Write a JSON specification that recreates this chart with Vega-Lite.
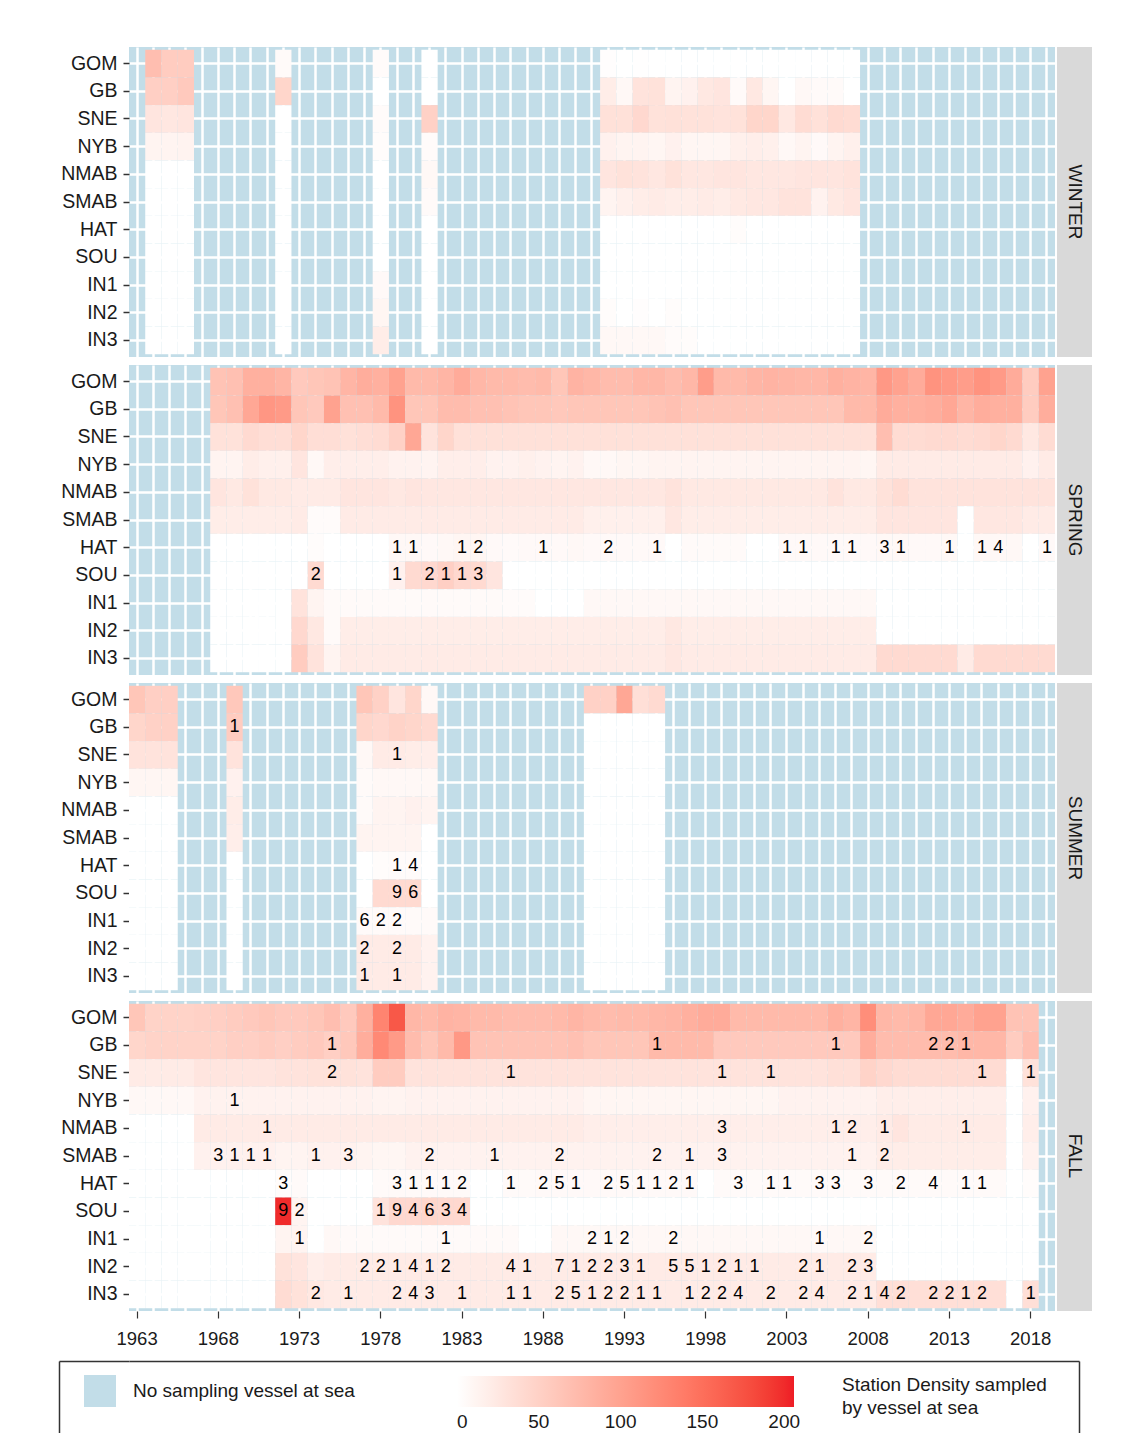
{
"$schema": "https://vega.github.io/schema/vega-lite/v6.json",
"padding": {"left": 58, "top": 47, "right": 0, "bottom": 0},
"background": "white",
"config": {"font": "Liberation Sans", "view": {"stroke": null}},
"data": {"format": {"type": "csv", "parse": {"y": "number", "d": "number"}}, "values": "s,y,r,d,l\nW,1964,GOM,70\nW,1964,GB,52\nW,1964,SNE,28\nW,1964,NYB,12\nW,1964,NMAB,0\nW,1964,SMAB,0\nW,1964,HAT,0\nW,1964,SOU,0\nW,1964,IN1,0\nW,1964,IN2,0\nW,1964,IN3,0\nW,1965,GOM,55\nW,1965,GB,52\nW,1965,SNE,26\nW,1965,NYB,12\nW,1965,NMAB,0\nW,1965,SMAB,0\nW,1965,HAT,0\nW,1965,SOU,0\nW,1965,IN1,0\nW,1965,IN2,0\nW,1965,IN3,0\nW,1966,GOM,55\nW,1966,GB,58\nW,1966,SNE,28\nW,1966,NYB,13\nW,1966,NMAB,0\nW,1966,SMAB,0\nW,1966,HAT,0\nW,1966,SOU,0\nW,1966,IN1,0\nW,1966,IN2,0\nW,1966,IN3,0\nW,1972,GOM,5\nW,1972,GB,45\nW,1972,SNE,0\nW,1972,NYB,0\nW,1972,NMAB,0\nW,1972,SMAB,0\nW,1972,HAT,0\nW,1972,SOU,0\nW,1972,IN1,0\nW,1972,IN2,0\nW,1972,IN3,0\nW,1978,GOM,4\nW,1978,GB,0\nW,1978,SNE,4\nW,1978,NYB,3\nW,1978,NMAB,0\nW,1978,SMAB,0\nW,1978,HAT,0\nW,1978,SOU,0\nW,1978,IN1,6\nW,1978,IN2,10\nW,1978,IN3,20\nW,1981,GOM,0\nW,1981,GB,0\nW,1981,SNE,50\nW,1981,NYB,4\nW,1981,NMAB,8\nW,1981,SMAB,5\nW,1981,HAT,0\nW,1981,SOU,0\nW,1981,IN1,0\nW,1981,IN2,0\nW,1981,IN3,0\nW,1992,GOM,2\nW,1992,GB,20\nW,1992,SNE,33\nW,1992,NYB,15\nW,1992,NMAB,28\nW,1992,SMAB,12\nW,1992,HAT,0\nW,1992,SOU,0\nW,1992,IN1,0\nW,1992,IN2,3\nW,1992,IN3,8\nW,1993,GOM,0\nW,1993,GB,8\nW,1993,SNE,33\nW,1993,NYB,12\nW,1993,NMAB,32\nW,1993,SMAB,16\nW,1993,HAT,0\nW,1993,SOU,0\nW,1993,IN1,0\nW,1993,IN2,0\nW,1993,IN3,8\nW,1994,GOM,1\nW,1994,GB,30\nW,1994,SNE,42\nW,1994,NYB,12\nW,1994,NMAB,30\nW,1994,SMAB,20\nW,1994,HAT,0\nW,1994,SOU,0\nW,1994,IN1,0\nW,1994,IN2,2\nW,1994,IN3,8\nW,1995,GOM,0\nW,1995,GB,32\nW,1995,SNE,32\nW,1995,NYB,10\nW,1995,NMAB,26\nW,1995,SMAB,22\nW,1995,HAT,0\nW,1995,SOU,0\nW,1995,IN1,0\nW,1995,IN2,0\nW,1995,IN3,8\nW,1996,GOM,0\nW,1996,GB,12\nW,1996,SNE,33\nW,1996,NYB,15\nW,1996,NMAB,32\nW,1996,SMAB,20\nW,1996,HAT,0\nW,1996,SOU,0\nW,1996,IN1,0\nW,1996,IN2,3\nW,1996,IN3,4\nW,1997,GOM,0\nW,1997,GB,15\nW,1997,SNE,32\nW,1997,NYB,10\nW,1997,NMAB,26\nW,1997,SMAB,20\nW,1997,HAT,0\nW,1997,SOU,0\nW,1997,IN1,0\nW,1997,IN2,0\nW,1997,IN3,3\nW,1998,GOM,0\nW,1998,GB,25\nW,1998,SNE,32\nW,1998,NYB,10\nW,1998,NMAB,26\nW,1998,SMAB,22\nW,1998,HAT,0\nW,1998,SOU,0\nW,1998,IN1,0\nW,1998,IN2,0\nW,1998,IN3,0\nW,1999,GOM,0\nW,1999,GB,28\nW,1999,SNE,30\nW,1999,NYB,10\nW,1999,NMAB,28\nW,1999,SMAB,20\nW,1999,HAT,0\nW,1999,SOU,0\nW,1999,IN1,0\nW,1999,IN2,0\nW,1999,IN3,0\nW,2000,GOM,0\nW,2000,GB,5\nW,2000,SNE,32\nW,2000,NYB,16\nW,2000,NMAB,28\nW,2000,SMAB,24\nW,2000,HAT,3\nW,2000,SOU,0\nW,2000,IN1,0\nW,2000,IN2,0\nW,2000,IN3,0\nW,2001,GOM,0\nW,2001,GB,25\nW,2001,SNE,45\nW,2001,NYB,18\nW,2001,NMAB,26\nW,2001,SMAB,26\nW,2001,HAT,0\nW,2001,SOU,0\nW,2001,IN1,0\nW,2001,IN2,0\nW,2001,IN3,0\nW,2002,GOM,0\nW,2002,GB,10\nW,2002,SNE,45\nW,2002,NYB,16\nW,2002,NMAB,26\nW,2002,SMAB,26\nW,2002,HAT,0\nW,2002,SOU,0\nW,2002,IN1,0\nW,2002,IN2,0\nW,2002,IN3,0\nW,2003,GOM,0\nW,2003,GB,0\nW,2003,SNE,25\nW,2003,NYB,8\nW,2003,NMAB,26\nW,2003,SMAB,30\nW,2003,HAT,0\nW,2003,SOU,0\nW,2003,IN1,0\nW,2003,IN2,0\nW,2003,IN3,0\nW,2004,GOM,0\nW,2004,GB,8\nW,2004,SNE,38\nW,2004,NYB,12\nW,2004,NMAB,28\nW,2004,SMAB,30\nW,2004,HAT,0\nW,2004,SOU,0\nW,2004,IN1,0\nW,2004,IN2,0\nW,2004,IN3,0\nW,2005,GOM,0\nW,2005,GB,5\nW,2005,SNE,33\nW,2005,NYB,6\nW,2005,NMAB,28\nW,2005,SMAB,14\nW,2005,HAT,0\nW,2005,SOU,0\nW,2005,IN1,0\nW,2005,IN2,0\nW,2005,IN3,0\nW,2006,GOM,0\nW,2006,GB,5\nW,2006,SNE,40\nW,2006,NYB,12\nW,2006,NMAB,28\nW,2006,SMAB,24\nW,2006,HAT,0\nW,2006,SOU,0\nW,2006,IN1,0\nW,2006,IN2,0\nW,2006,IN3,0\nW,2007,GOM,0\nW,2007,GB,0\nW,2007,SNE,38\nW,2007,NYB,16\nW,2007,NMAB,30\nW,2007,SMAB,28\nW,2007,HAT,0\nW,2007,SOU,0\nW,2007,IN1,0\nW,2007,IN2,0\nW,2007,IN3,0\nS,1968,GOM,65\nS,1968,GB,62\nS,1968,SNE,32\nS,1968,NYB,12\nS,1968,NMAB,28\nS,1968,SMAB,20\nS,1968,HAT,0\nS,1968,SOU,0\nS,1968,IN1,0\nS,1968,IN2,0\nS,1968,IN3,0\nS,1969,GOM,68\nS,1969,GB,68\nS,1969,SNE,32\nS,1969,NYB,12\nS,1969,NMAB,24\nS,1969,SMAB,20\nS,1969,HAT,0\nS,1969,SOU,0\nS,1969,IN1,0\nS,1969,IN2,0\nS,1969,IN3,0\nS,1970,GOM,85\nS,1970,GB,95\nS,1970,SNE,40\nS,1970,NYB,20\nS,1970,NMAB,32\nS,1970,SMAB,20\nS,1970,HAT,0\nS,1970,SOU,0\nS,1970,IN1,0\nS,1970,IN2,0\nS,1970,IN3,0\nS,1971,GOM,85\nS,1971,GB,112\nS,1971,SNE,36\nS,1971,NYB,16\nS,1971,NMAB,24\nS,1971,SMAB,20\nS,1971,HAT,0\nS,1971,SOU,0\nS,1971,IN1,0\nS,1971,IN2,0\nS,1971,IN3,0\nS,1972,GOM,80\nS,1972,GB,108\nS,1972,SNE,36\nS,1972,NYB,16\nS,1972,NMAB,24\nS,1972,SMAB,20\nS,1972,HAT,0\nS,1972,SOU,0\nS,1972,IN1,0\nS,1972,IN2,0\nS,1972,IN3,0\nS,1973,GOM,58\nS,1973,GB,62\nS,1973,SNE,45\nS,1973,NYB,28\nS,1973,NMAB,22\nS,1973,SMAB,22\nS,1973,HAT,0\nS,1973,SOU,0\nS,1973,IN1,30\nS,1973,IN2,42\nS,1973,IN3,55\nS,1974,GOM,62\nS,1974,GB,58\nS,1974,SNE,36\nS,1974,NYB,8\nS,1974,NMAB,22\nS,1974,SMAB,4\nS,1974,HAT,3\nS,1974,SOU,40,2\nS,1974,IN1,12\nS,1974,IN2,25\nS,1974,IN3,30\nS,1975,GOM,65\nS,1975,GB,100\nS,1975,SNE,36\nS,1975,NYB,18\nS,1975,NMAB,22\nS,1975,SMAB,4\nS,1975,HAT,0\nS,1975,SOU,0\nS,1975,IN1,5\nS,1975,IN2,5\nS,1975,IN3,12\nS,1976,GOM,80\nS,1976,GB,68\nS,1976,SNE,33\nS,1976,NYB,18\nS,1976,NMAB,28\nS,1976,SMAB,22\nS,1976,HAT,0\nS,1976,SOU,0\nS,1976,IN1,5\nS,1976,IN2,20\nS,1976,IN3,22\nS,1977,GOM,88\nS,1977,GB,68\nS,1977,SNE,36\nS,1977,NYB,18\nS,1977,NMAB,28\nS,1977,SMAB,22\nS,1977,HAT,0\nS,1977,SOU,0\nS,1977,IN1,5\nS,1977,IN2,20\nS,1977,IN3,22\nS,1978,GOM,85\nS,1978,GB,75\nS,1978,SNE,38\nS,1978,NYB,18\nS,1978,NMAB,28\nS,1978,SMAB,22\nS,1978,HAT,0\nS,1978,SOU,0\nS,1978,IN1,5\nS,1978,IN2,20\nS,1978,IN3,22\nS,1979,GOM,100\nS,1979,GB,115\nS,1979,SNE,50\nS,1979,NYB,14\nS,1979,NMAB,25\nS,1979,SMAB,22\nS,1979,HAT,8,1\nS,1979,SOU,15,1\nS,1979,IN1,5\nS,1979,IN2,20\nS,1979,IN3,22\nS,1980,GOM,75\nS,1980,GB,62\nS,1980,SNE,95\nS,1980,NYB,14\nS,1980,NMAB,28\nS,1980,SMAB,22\nS,1980,HAT,8,1\nS,1980,SOU,40\nS,1980,IN1,5\nS,1980,IN2,20\nS,1980,IN3,22\nS,1981,GOM,75\nS,1981,GB,62\nS,1981,SNE,30\nS,1981,NYB,12\nS,1981,NMAB,26\nS,1981,SMAB,22\nS,1981,HAT,6\nS,1981,SOU,42,2\nS,1981,IN1,5\nS,1981,IN2,20\nS,1981,IN3,22\nS,1982,GOM,80\nS,1982,GB,72\nS,1982,SNE,45\nS,1982,NYB,18\nS,1982,NMAB,26\nS,1982,SMAB,22\nS,1982,HAT,8\nS,1982,SOU,52,1\nS,1982,IN1,5\nS,1982,IN2,20\nS,1982,IN3,22\nS,1983,GOM,90\nS,1983,GB,72\nS,1983,SNE,33\nS,1983,NYB,18\nS,1983,NMAB,26\nS,1983,SMAB,22\nS,1983,HAT,10,1\nS,1983,SOU,42,1\nS,1983,IN1,5\nS,1983,IN2,20\nS,1983,IN3,22\nS,1984,GOM,78\nS,1984,GB,68\nS,1984,SNE,33\nS,1984,NYB,18\nS,1984,NMAB,26\nS,1984,SMAB,22\nS,1984,HAT,10,2\nS,1984,SOU,40,3\nS,1984,IN1,5\nS,1984,IN2,20\nS,1984,IN3,22\nS,1985,GOM,75\nS,1985,GB,68\nS,1985,SNE,33\nS,1985,NYB,14\nS,1985,NMAB,26\nS,1985,SMAB,22\nS,1985,HAT,6\nS,1985,SOU,28\nS,1985,IN1,5\nS,1985,IN2,20\nS,1985,IN3,22\nS,1986,GOM,75\nS,1986,GB,65\nS,1986,SNE,33\nS,1986,NYB,14\nS,1986,NMAB,26\nS,1986,SMAB,22\nS,1986,HAT,5\nS,1986,SOU,0\nS,1986,IN1,4\nS,1986,IN2,20\nS,1986,IN3,22\nS,1987,GOM,72\nS,1987,GB,62\nS,1987,SNE,33\nS,1987,NYB,16\nS,1987,NMAB,26\nS,1987,SMAB,22\nS,1987,HAT,6\nS,1987,SOU,0\nS,1987,IN1,4\nS,1987,IN2,20\nS,1987,IN3,22\nS,1988,GOM,75\nS,1988,GB,62\nS,1988,SNE,33\nS,1988,NYB,14\nS,1988,NMAB,26\nS,1988,SMAB,22\nS,1988,HAT,6,1\nS,1988,SOU,0\nS,1988,IN1,0\nS,1988,IN2,20\nS,1988,IN3,22\nS,1989,GOM,62\nS,1989,GB,60\nS,1989,SNE,33\nS,1989,NYB,12\nS,1989,NMAB,26\nS,1989,SMAB,22\nS,1989,HAT,6\nS,1989,SOU,0\nS,1989,IN1,0\nS,1989,IN2,20\nS,1989,IN3,22\nS,1990,GOM,82\nS,1990,GB,62\nS,1990,SNE,33\nS,1990,NYB,14\nS,1990,NMAB,26\nS,1990,SMAB,22\nS,1990,HAT,8\nS,1990,SOU,0\nS,1990,IN1,0\nS,1990,IN2,20\nS,1990,IN3,22\nS,1991,GOM,78\nS,1991,GB,62\nS,1991,SNE,33\nS,1991,NYB,8\nS,1991,NMAB,26\nS,1991,SMAB,16\nS,1991,HAT,6\nS,1991,SOU,0\nS,1991,IN1,8\nS,1991,IN2,20\nS,1991,IN3,22\nS,1992,GOM,72\nS,1992,GB,62\nS,1992,SNE,33\nS,1992,NYB,8\nS,1992,NMAB,26\nS,1992,SMAB,16\nS,1992,HAT,6,2\nS,1992,SOU,0\nS,1992,IN1,8\nS,1992,IN2,20\nS,1992,IN3,22\nS,1993,GOM,72\nS,1993,GB,62\nS,1993,SNE,33\nS,1993,NYB,10\nS,1993,NMAB,26\nS,1993,SMAB,16\nS,1993,HAT,6\nS,1993,SOU,0\nS,1993,IN1,8\nS,1993,IN2,20\nS,1993,IN3,22\nS,1994,GOM,78\nS,1994,GB,62\nS,1994,SNE,33\nS,1994,NYB,10\nS,1994,NMAB,26\nS,1994,SMAB,16\nS,1994,HAT,6\nS,1994,SOU,0\nS,1994,IN1,8\nS,1994,IN2,20\nS,1994,IN3,22\nS,1995,GOM,78\nS,1995,GB,65\nS,1995,SNE,33\nS,1995,NYB,12\nS,1995,NMAB,26\nS,1995,SMAB,16\nS,1995,HAT,6,1\nS,1995,SOU,0\nS,1995,IN1,8\nS,1995,IN2,20\nS,1995,IN3,22\nS,1996,GOM,72\nS,1996,GB,68\nS,1996,SNE,33\nS,1996,NYB,12\nS,1996,NMAB,30\nS,1996,SMAB,26\nS,1996,HAT,0\nS,1996,SOU,0\nS,1996,IN1,8\nS,1996,IN2,25\nS,1996,IN3,26\nS,1997,GOM,78\nS,1997,GB,62\nS,1997,SNE,33\nS,1997,NYB,12\nS,1997,NMAB,24\nS,1997,SMAB,20\nS,1997,HAT,5\nS,1997,SOU,0\nS,1997,IN1,8\nS,1997,IN2,20\nS,1997,IN3,22\nS,1998,GOM,105\nS,1998,GB,62\nS,1998,SNE,33\nS,1998,NYB,12\nS,1998,NMAB,24\nS,1998,SMAB,20\nS,1998,HAT,5\nS,1998,SOU,0\nS,1998,IN1,8\nS,1998,IN2,20\nS,1998,IN3,22\nS,1999,GOM,75\nS,1999,GB,62\nS,1999,SNE,33\nS,1999,NYB,12\nS,1999,NMAB,24\nS,1999,SMAB,20\nS,1999,HAT,5\nS,1999,SOU,0\nS,1999,IN1,8\nS,1999,IN2,20\nS,1999,IN3,22\nS,2000,GOM,75\nS,2000,GB,62\nS,2000,SNE,33\nS,2000,NYB,12\nS,2000,NMAB,24\nS,2000,SMAB,20\nS,2000,HAT,5\nS,2000,SOU,0\nS,2000,IN1,8\nS,2000,IN2,20\nS,2000,IN3,22\nS,2001,GOM,80\nS,2001,GB,62\nS,2001,SNE,33\nS,2001,NYB,12\nS,2001,NMAB,24\nS,2001,SMAB,20\nS,2001,HAT,0\nS,2001,SOU,0\nS,2001,IN1,8\nS,2001,IN2,20\nS,2001,IN3,22\nS,2002,GOM,82\nS,2002,GB,62\nS,2002,SNE,33\nS,2002,NYB,12\nS,2002,NMAB,24\nS,2002,SMAB,20\nS,2002,HAT,0\nS,2002,SOU,0\nS,2002,IN1,8\nS,2002,IN2,20\nS,2002,IN3,22\nS,2003,GOM,80\nS,2003,GB,62\nS,2003,SNE,33\nS,2003,NYB,12\nS,2003,NMAB,24\nS,2003,SMAB,20\nS,2003,HAT,6,1\nS,2003,SOU,0\nS,2003,IN1,8\nS,2003,IN2,20\nS,2003,IN3,22\nS,2004,GOM,78\nS,2004,GB,62\nS,2004,SNE,33\nS,2004,NYB,12\nS,2004,NMAB,24\nS,2004,SMAB,20\nS,2004,HAT,6,1\nS,2004,SOU,0\nS,2004,IN1,8\nS,2004,IN2,20\nS,2004,IN3,22\nS,2005,GOM,78\nS,2005,GB,62\nS,2005,SNE,33\nS,2005,NYB,12\nS,2005,NMAB,24\nS,2005,SMAB,20\nS,2005,HAT,6\nS,2005,SOU,0\nS,2005,IN1,8\nS,2005,IN2,20\nS,2005,IN3,22\nS,2006,GOM,85\nS,2006,GB,62\nS,2006,SNE,33\nS,2006,NYB,12\nS,2006,NMAB,30\nS,2006,SMAB,20\nS,2006,HAT,6,1\nS,2006,SOU,0\nS,2006,IN1,8\nS,2006,IN2,20\nS,2006,IN3,22\nS,2007,GOM,82\nS,2007,GB,75\nS,2007,SNE,33\nS,2007,NYB,12\nS,2007,NMAB,24\nS,2007,SMAB,20\nS,2007,HAT,6,1\nS,2007,SOU,0\nS,2007,IN1,8\nS,2007,IN2,20\nS,2007,IN3,22\nS,2008,GOM,80\nS,2008,GB,75\nS,2008,SNE,33\nS,2008,NYB,10\nS,2008,NMAB,24\nS,2008,SMAB,20\nS,2008,HAT,6\nS,2008,SOU,0\nS,2008,IN1,8\nS,2008,IN2,20\nS,2008,IN3,22\nS,2009,GOM,110\nS,2009,GB,90\nS,2009,SNE,70\nS,2009,NYB,22\nS,2009,NMAB,32\nS,2009,SMAB,28\nS,2009,HAT,8,3\nS,2009,SOU,0\nS,2009,IN1,0\nS,2009,IN2,0\nS,2009,IN3,40\nS,2010,GOM,100\nS,2010,GB,85\nS,2010,SNE,38\nS,2010,NYB,22\nS,2010,NMAB,38\nS,2010,SMAB,28\nS,2010,HAT,8,1\nS,2010,SOU,0\nS,2010,IN1,0\nS,2010,IN2,0\nS,2010,IN3,40\nS,2011,GOM,90\nS,2011,GB,85\nS,2011,SNE,38\nS,2011,NYB,22\nS,2011,NMAB,30\nS,2011,SMAB,28\nS,2011,HAT,6\nS,2011,SOU,0\nS,2011,IN1,0\nS,2011,IN2,0\nS,2011,IN3,40\nS,2012,GOM,115\nS,2012,GB,88\nS,2012,SNE,40\nS,2012,NYB,22\nS,2012,NMAB,30\nS,2012,SMAB,28\nS,2012,HAT,6\nS,2012,SOU,0\nS,2012,IN1,0\nS,2012,IN2,0\nS,2012,IN3,40\nS,2013,GOM,110\nS,2013,GB,95\nS,2013,SNE,40\nS,2013,NYB,22\nS,2013,NMAB,30\nS,2013,SMAB,28\nS,2013,HAT,8,1\nS,2013,SOU,0\nS,2013,IN1,0\nS,2013,IN2,0\nS,2013,IN3,40\nS,2014,GOM,105\nS,2014,GB,80\nS,2014,SNE,38\nS,2014,NYB,22\nS,2014,NMAB,30\nS,2014,SMAB,0\nS,2014,HAT,0\nS,2014,SOU,0\nS,2014,IN1,0\nS,2014,IN2,0\nS,2014,IN3,22\nS,2015,GOM,115\nS,2015,GB,88\nS,2015,SNE,40\nS,2015,NYB,22\nS,2015,NMAB,30\nS,2015,SMAB,26\nS,2015,HAT,8,1\nS,2015,SOU,0\nS,2015,IN1,0\nS,2015,IN2,0\nS,2015,IN3,40\nS,2016,GOM,108\nS,2016,GB,85\nS,2016,SNE,45\nS,2016,NYB,22\nS,2016,NMAB,30\nS,2016,SMAB,26\nS,2016,HAT,8,4\nS,2016,SOU,0\nS,2016,IN1,0\nS,2016,IN2,0\nS,2016,IN3,40\nS,2017,GOM,90\nS,2017,GB,85\nS,2017,SNE,40\nS,2017,NYB,22\nS,2017,NMAB,30\nS,2017,SMAB,26\nS,2017,HAT,8\nS,2017,SOU,0\nS,2017,IN1,0\nS,2017,IN2,0\nS,2017,IN3,40\nS,2018,GOM,55\nS,2018,GB,55\nS,2018,SNE,25\nS,2018,NYB,15\nS,2018,NMAB,30\nS,2018,SMAB,22\nS,2018,HAT,0\nS,2018,SOU,0\nS,2018,IN1,0\nS,2018,IN2,0\nS,2018,IN3,40\nS,2019,GOM,100\nS,2019,GB,88\nS,2019,SNE,38\nS,2019,NYB,22\nS,2019,NMAB,30\nS,2019,SMAB,22\nS,2019,HAT,6,1\nS,2019,SOU,0\nS,2019,IN1,0\nS,2019,IN2,0\nS,2019,IN3,40\nU,1963,GOM,62\nU,1963,GB,45\nU,1963,SNE,30\nU,1963,NYB,10\nU,1963,NMAB,0\nU,1963,SMAB,0\nU,1963,HAT,0\nU,1963,SOU,0\nU,1963,IN1,0\nU,1963,IN2,0\nU,1963,IN3,0\nU,1964,GOM,52\nU,1964,GB,50\nU,1964,SNE,30\nU,1964,NYB,10\nU,1964,NMAB,0\nU,1964,SMAB,0\nU,1964,HAT,0\nU,1964,SOU,0\nU,1964,IN1,0\nU,1964,IN2,0\nU,1964,IN3,0\nU,1965,GOM,52\nU,1965,GB,50\nU,1965,SNE,30\nU,1965,NYB,10\nU,1965,NMAB,0\nU,1965,SMAB,0\nU,1965,HAT,0\nU,1965,SOU,0\nU,1965,IN1,0\nU,1965,IN2,0\nU,1965,IN3,0\nU,1969,GOM,60\nU,1969,GB,55,1\nU,1969,SNE,30\nU,1969,NYB,15\nU,1969,NMAB,20\nU,1969,SMAB,18\nU,1969,HAT,0\nU,1969,SOU,0\nU,1969,IN1,0\nU,1969,IN2,0\nU,1969,IN3,0\nU,1977,GOM,62\nU,1977,GB,45\nU,1977,SNE,8\nU,1977,NYB,5\nU,1977,NMAB,5\nU,1977,SMAB,12\nU,1977,HAT,0\nU,1977,SOU,0\nU,1977,IN1,5,6\nU,1977,IN2,22,2\nU,1977,IN3,22,1\nU,1978,GOM,50\nU,1978,GB,42\nU,1978,SNE,22\nU,1978,NYB,8\nU,1978,NMAB,12\nU,1978,SMAB,12\nU,1978,HAT,3\nU,1978,SOU,40\nU,1978,IN1,5,2\nU,1978,IN2,22\nU,1978,IN3,22\nU,1979,GOM,28\nU,1979,GB,48\nU,1979,SNE,22,1\nU,1979,NYB,8\nU,1979,NMAB,12\nU,1979,SMAB,12\nU,1979,HAT,4,1\nU,1979,SOU,40,9\nU,1979,IN1,5,2\nU,1979,IN2,22,2\nU,1979,IN3,22,1\nU,1980,GOM,45\nU,1980,GB,45\nU,1980,SNE,20\nU,1980,NYB,8\nU,1980,NMAB,15\nU,1980,SMAB,12\nU,1980,HAT,4,4\nU,1980,SOU,40,6\nU,1980,IN1,5\nU,1980,IN2,22\nU,1980,IN3,22\nU,1981,GOM,8\nU,1981,GB,40\nU,1981,SNE,18\nU,1981,NYB,8\nU,1981,NMAB,12\nU,1981,SMAB,0\nU,1981,HAT,0\nU,1981,SOU,0\nU,1981,IN1,5\nU,1981,IN2,14\nU,1981,IN3,14\nU,1991,GOM,50\nU,1991,GB,0\nU,1991,SNE,0\nU,1991,NYB,0\nU,1991,NMAB,0\nU,1991,SMAB,0\nU,1991,HAT,0\nU,1991,SOU,0\nU,1991,IN1,0\nU,1991,IN2,0\nU,1991,IN3,0\nU,1992,GOM,50\nU,1992,GB,0\nU,1992,SNE,0\nU,1992,NYB,0\nU,1992,NMAB,0\nU,1992,SMAB,0\nU,1992,HAT,0\nU,1992,SOU,0\nU,1992,IN1,0\nU,1992,IN2,0\nU,1992,IN3,0\nU,1993,GOM,95\nU,1993,GB,0\nU,1993,SNE,0\nU,1993,NYB,0\nU,1993,NMAB,0\nU,1993,SMAB,0\nU,1993,HAT,0\nU,1993,SOU,0\nU,1993,IN1,0\nU,1993,IN2,0\nU,1993,IN3,0\nU,1994,GOM,35\nU,1994,GB,0\nU,1994,SNE,0\nU,1994,NYB,0\nU,1994,NMAB,0\nU,1994,SMAB,0\nU,1994,HAT,0\nU,1994,SOU,0\nU,1994,IN1,0\nU,1994,IN2,0\nU,1994,IN3,0\nU,1995,GOM,40\nU,1995,GB,0\nU,1995,SNE,0\nU,1995,NYB,0\nU,1995,NMAB,0\nU,1995,SMAB,0\nU,1995,HAT,0\nU,1995,SOU,0\nU,1995,IN1,0\nU,1995,IN2,0\nU,1995,IN3,0\nF,1963,GOM,62\nF,1963,GB,45\nF,1963,SNE,22\nF,1963,NYB,8\nF,1963,NMAB,0\nF,1963,SMAB,0\nF,1963,HAT,0\nF,1963,SOU,0\nF,1963,IN1,0\nF,1963,IN2,0\nF,1963,IN3,0\nF,1964,GOM,48\nF,1964,GB,48\nF,1964,SNE,22\nF,1964,NYB,8\nF,1964,NMAB,0\nF,1964,SMAB,0\nF,1964,HAT,0\nF,1964,SOU,0\nF,1964,IN1,0\nF,1964,IN2,0\nF,1964,IN3,0\nF,1965,GOM,48\nF,1965,GB,48\nF,1965,SNE,22\nF,1965,NYB,8\nF,1965,NMAB,0\nF,1965,SMAB,0\nF,1965,HAT,0\nF,1965,SOU,0\nF,1965,IN1,0\nF,1965,IN2,0\nF,1965,IN3,0\nF,1966,GOM,48\nF,1966,GB,48\nF,1966,SNE,22\nF,1966,NYB,8\nF,1966,NMAB,0\nF,1966,SMAB,0\nF,1966,HAT,0\nF,1966,SOU,0\nF,1966,IN1,0\nF,1966,IN2,0\nF,1966,IN3,0\nF,1967,GOM,50\nF,1967,GB,48\nF,1967,SNE,28\nF,1967,NYB,14\nF,1967,NMAB,22\nF,1967,SMAB,15\nF,1967,HAT,0\nF,1967,SOU,0\nF,1967,IN1,0\nF,1967,IN2,0\nF,1967,IN3,0\nF,1968,GOM,52\nF,1968,GB,48\nF,1968,SNE,28\nF,1968,NYB,14\nF,1968,NMAB,22\nF,1968,SMAB,15,3\nF,1968,HAT,0\nF,1968,SOU,0\nF,1968,IN1,0\nF,1968,IN2,0\nF,1968,IN3,0\nF,1969,GOM,55\nF,1969,GB,52\nF,1969,SNE,28\nF,1969,NYB,14,1\nF,1969,NMAB,22\nF,1969,SMAB,15,1\nF,1969,HAT,0\nF,1969,SOU,0\nF,1969,IN1,0\nF,1969,IN2,0\nF,1969,IN3,0\nF,1970,GOM,58\nF,1970,GB,52\nF,1970,SNE,28\nF,1970,NYB,14\nF,1970,NMAB,22\nF,1970,SMAB,15,1\nF,1970,HAT,0\nF,1970,SOU,0\nF,1970,IN1,0\nF,1970,IN2,0\nF,1970,IN3,0\nF,1971,GOM,62\nF,1971,GB,55\nF,1971,SNE,28\nF,1971,NYB,14\nF,1971,NMAB,22,1\nF,1971,SMAB,15,1\nF,1971,HAT,0\nF,1971,SOU,0\nF,1971,IN1,0\nF,1971,IN2,0\nF,1971,IN3,0\nF,1972,GOM,58\nF,1972,GB,52\nF,1972,SNE,30\nF,1972,NYB,14\nF,1972,NMAB,22\nF,1972,SMAB,12\nF,1972,HAT,3,3\nF,1972,SOU,200,9\nF,1972,IN1,12\nF,1972,IN2,32\nF,1972,IN3,38\nF,1973,GOM,58\nF,1973,GB,55\nF,1973,SNE,30\nF,1973,NYB,14\nF,1973,NMAB,22\nF,1973,SMAB,12\nF,1973,HAT,5\nF,1973,SOU,12,2\nF,1973,IN1,12,1\nF,1973,IN2,28\nF,1973,IN3,32\nF,1974,GOM,62\nF,1974,GB,58\nF,1974,SNE,32\nF,1974,NYB,14\nF,1974,NMAB,22\nF,1974,SMAB,15,1\nF,1974,HAT,0\nF,1974,SOU,0\nF,1974,IN1,0\nF,1974,IN2,18\nF,1974,IN3,25,2\nF,1975,GOM,70\nF,1975,GB,52,1\nF,1975,SNE,32,2\nF,1975,NYB,14\nF,1975,NMAB,22\nF,1975,SMAB,15\nF,1975,HAT,0\nF,1975,SOU,0\nF,1975,IN1,8\nF,1975,IN2,22\nF,1975,IN3,22\nF,1976,GOM,58\nF,1976,GB,60\nF,1976,SNE,32\nF,1976,NYB,14\nF,1976,NMAB,22\nF,1976,SMAB,15,3\nF,1976,HAT,0\nF,1976,SOU,0\nF,1976,IN1,5\nF,1976,IN2,22\nF,1976,IN3,22,1\nF,1977,GOM,85\nF,1977,GB,88\nF,1977,SNE,30\nF,1977,NYB,14\nF,1977,NMAB,22\nF,1977,SMAB,12\nF,1977,HAT,0\nF,1977,SOU,0\nF,1977,IN1,5\nF,1977,IN2,22,2\nF,1977,IN3,22\nF,1978,GOM,130\nF,1978,GB,125\nF,1978,SNE,55\nF,1978,NYB,12\nF,1978,NMAB,22\nF,1978,SMAB,10\nF,1978,HAT,5\nF,1978,SOU,30,1\nF,1978,IN1,5\nF,1978,IN2,22,2\nF,1978,IN3,22\nF,1979,GOM,170\nF,1979,GB,108\nF,1979,SNE,55\nF,1979,NYB,12\nF,1979,NMAB,22\nF,1979,SMAB,10\nF,1979,HAT,6,3\nF,1979,SOU,42,9\nF,1979,IN1,5\nF,1979,IN2,22,1\nF,1979,IN3,22,2\nF,1980,GOM,78\nF,1980,GB,72\nF,1980,SNE,30\nF,1980,NYB,14\nF,1980,NMAB,22\nF,1980,SMAB,14\nF,1980,HAT,6,1\nF,1980,SOU,42,4\nF,1980,IN1,5\nF,1980,IN2,22,4\nF,1980,IN3,22,4\nF,1981,GOM,75\nF,1981,GB,62\nF,1981,SNE,30\nF,1981,NYB,14\nF,1981,NMAB,22\nF,1981,SMAB,14,2\nF,1981,HAT,6,1\nF,1981,SOU,45,6\nF,1981,IN1,5\nF,1981,IN2,22,1\nF,1981,IN3,22,3\nF,1982,GOM,82\nF,1982,GB,75\nF,1982,SNE,30\nF,1982,NYB,14\nF,1982,NMAB,22\nF,1982,SMAB,14\nF,1982,HAT,6,1\nF,1982,SOU,42,3\nF,1982,IN1,5,1\nF,1982,IN2,22,2\nF,1982,IN3,22\nF,1983,GOM,80\nF,1983,GB,110\nF,1983,SNE,30\nF,1983,NYB,14\nF,1983,NMAB,22\nF,1983,SMAB,14\nF,1983,HAT,6,2\nF,1983,SOU,42,4\nF,1983,IN1,5\nF,1983,IN2,22\nF,1983,IN3,22,1\nF,1984,GOM,75\nF,1984,GB,65\nF,1984,SNE,30\nF,1984,NYB,14\nF,1984,NMAB,22\nF,1984,SMAB,14\nF,1984,HAT,0\nF,1984,SOU,0\nF,1984,IN1,5\nF,1984,IN2,22\nF,1984,IN3,22\nF,1985,GOM,75\nF,1985,GB,65\nF,1985,SNE,30\nF,1985,NYB,14\nF,1985,NMAB,22\nF,1985,SMAB,14,1\nF,1985,HAT,0\nF,1985,SOU,0\nF,1985,IN1,5\nF,1985,IN2,22\nF,1985,IN3,22\nF,1986,GOM,72\nF,1986,GB,65\nF,1986,SNE,30,1\nF,1986,NYB,14\nF,1986,NMAB,22\nF,1986,SMAB,14\nF,1986,HAT,5,1\nF,1986,SOU,0\nF,1986,IN1,5\nF,1986,IN2,22,4\nF,1986,IN3,22,1\nF,1987,GOM,72\nF,1987,GB,65\nF,1987,SNE,30\nF,1987,NYB,14\nF,1987,NMAB,22\nF,1987,SMAB,14\nF,1987,HAT,5\nF,1987,SOU,0\nF,1987,IN1,0\nF,1987,IN2,22,1\nF,1987,IN3,22,1\nF,1988,GOM,72\nF,1988,GB,65\nF,1988,SNE,30\nF,1988,NYB,14\nF,1988,NMAB,22\nF,1988,SMAB,14\nF,1988,HAT,6,2\nF,1988,SOU,0\nF,1988,IN1,0\nF,1988,IN2,22\nF,1988,IN3,22\nF,1989,GOM,75\nF,1989,GB,65\nF,1989,SNE,30\nF,1989,NYB,14\nF,1989,NMAB,22\nF,1989,SMAB,14,2\nF,1989,HAT,6,5\nF,1989,SOU,0\nF,1989,IN1,8\nF,1989,IN2,22,7\nF,1989,IN3,22,2\nF,1990,GOM,80\nF,1990,GB,68\nF,1990,SNE,30\nF,1990,NYB,14\nF,1990,NMAB,22\nF,1990,SMAB,14\nF,1990,HAT,6,1\nF,1990,SOU,0\nF,1990,IN1,8\nF,1990,IN2,22,1\nF,1990,IN3,22,5\nF,1991,GOM,75\nF,1991,GB,62\nF,1991,SNE,30\nF,1991,NYB,10\nF,1991,NMAB,18\nF,1991,SMAB,14\nF,1991,HAT,6\nF,1991,SOU,0\nF,1991,IN1,8,2\nF,1991,IN2,22,2\nF,1991,IN3,22,1\nF,1992,GOM,72\nF,1992,GB,62\nF,1992,SNE,30\nF,1992,NYB,10\nF,1992,NMAB,18\nF,1992,SMAB,14\nF,1992,HAT,6,2\nF,1992,SOU,0\nF,1992,IN1,8,1\nF,1992,IN2,22,2\nF,1992,IN3,22,2\nF,1993,GOM,75\nF,1993,GB,62\nF,1993,SNE,30\nF,1993,NYB,10\nF,1993,NMAB,18\nF,1993,SMAB,14\nF,1993,HAT,6,5\nF,1993,SOU,0\nF,1993,IN1,8,2\nF,1993,IN2,22,3\nF,1993,IN3,22,2\nF,1994,GOM,75\nF,1994,GB,62\nF,1994,SNE,30\nF,1994,NYB,10\nF,1994,NMAB,18\nF,1994,SMAB,14\nF,1994,HAT,6,1\nF,1994,SOU,0\nF,1994,IN1,8\nF,1994,IN2,22,1\nF,1994,IN3,22,1\nF,1995,GOM,78\nF,1995,GB,75,1\nF,1995,SNE,30\nF,1995,NYB,10\nF,1995,NMAB,18\nF,1995,SMAB,14,2\nF,1995,HAT,6,1\nF,1995,SOU,0\nF,1995,IN1,8\nF,1995,IN2,22\nF,1995,IN3,22,1\nF,1996,GOM,80\nF,1996,GB,75\nF,1996,SNE,30\nF,1996,NYB,10\nF,1996,NMAB,18\nF,1996,SMAB,14\nF,1996,HAT,6,2\nF,1996,SOU,0\nF,1996,IN1,8,2\nF,1996,IN2,22,5\nF,1996,IN3,22\nF,1997,GOM,85\nF,1997,GB,75\nF,1997,SNE,30\nF,1997,NYB,10\nF,1997,NMAB,18\nF,1997,SMAB,14,1\nF,1997,HAT,6,1\nF,1997,SOU,0\nF,1997,IN1,8\nF,1997,IN2,22,5\nF,1997,IN3,22,1\nF,1998,GOM,90\nF,1998,GB,75\nF,1998,SNE,30\nF,1998,NYB,10\nF,1998,NMAB,18\nF,1998,SMAB,14\nF,1998,HAT,0\nF,1998,SOU,0\nF,1998,IN1,8\nF,1998,IN2,22,1\nF,1998,IN3,22,2\nF,1999,GOM,90\nF,1999,GB,58\nF,1999,SNE,30,1\nF,1999,NYB,10\nF,1999,NMAB,18,3\nF,1999,SMAB,14,3\nF,1999,HAT,5\nF,1999,SOU,0\nF,1999,IN1,8\nF,1999,IN2,22,2\nF,1999,IN3,22,2\nF,2000,GOM,75\nF,2000,GB,58\nF,2000,SNE,30\nF,2000,NYB,10\nF,2000,NMAB,18\nF,2000,SMAB,14\nF,2000,HAT,5,3\nF,2000,SOU,0\nF,2000,IN1,8\nF,2000,IN2,22,1\nF,2000,IN3,22,4\nF,2001,GOM,75\nF,2001,GB,58\nF,2001,SNE,30\nF,2001,NYB,10\nF,2001,NMAB,18\nF,2001,SMAB,14\nF,2001,HAT,5\nF,2001,SOU,0\nF,2001,IN1,8\nF,2001,IN2,22,1\nF,2001,IN3,22\nF,2002,GOM,75\nF,2002,GB,58\nF,2002,SNE,30,1\nF,2002,NYB,10\nF,2002,NMAB,18\nF,2002,SMAB,14\nF,2002,HAT,5,1\nF,2002,SOU,0\nF,2002,IN1,8\nF,2002,IN2,22\nF,2002,IN3,22,2\nF,2003,GOM,75\nF,2003,GB,58\nF,2003,SNE,30\nF,2003,NYB,14\nF,2003,NMAB,18\nF,2003,SMAB,14\nF,2003,HAT,5,1\nF,2003,SOU,0\nF,2003,IN1,8\nF,2003,IN2,22\nF,2003,IN3,22\nF,2004,GOM,75\nF,2004,GB,58\nF,2004,SNE,30\nF,2004,NYB,14\nF,2004,NMAB,18\nF,2004,SMAB,14\nF,2004,HAT,5\nF,2004,SOU,0\nF,2004,IN1,8\nF,2004,IN2,22,2\nF,2004,IN3,22,2\nF,2005,GOM,75\nF,2005,GB,58\nF,2005,SNE,30\nF,2005,NYB,14\nF,2005,NMAB,18\nF,2005,SMAB,14\nF,2005,HAT,5,3\nF,2005,SOU,0\nF,2005,IN1,6,1\nF,2005,IN2,22,1\nF,2005,IN3,22,4\nF,2006,GOM,85\nF,2006,GB,58,1\nF,2006,SNE,34\nF,2006,NYB,14\nF,2006,NMAB,18,1\nF,2006,SMAB,14\nF,2006,HAT,5,3\nF,2006,SOU,0\nF,2006,IN1,8\nF,2006,IN2,22\nF,2006,IN3,22\nF,2007,GOM,80\nF,2007,GB,58\nF,2007,SNE,34\nF,2007,NYB,14\nF,2007,NMAB,18,2\nF,2007,SMAB,14,1\nF,2007,HAT,5\nF,2007,SOU,0\nF,2007,IN1,8\nF,2007,IN2,22,2\nF,2007,IN3,22,2\nF,2008,GOM,120\nF,2008,GB,88\nF,2008,SNE,48\nF,2008,NYB,14\nF,2008,NMAB,18\nF,2008,SMAB,14\nF,2008,HAT,5,3\nF,2008,SOU,0\nF,2008,IN1,8,2\nF,2008,IN2,22,3\nF,2008,IN3,22,1\nF,2009,GOM,78\nF,2009,GB,72\nF,2009,SNE,42\nF,2009,NYB,18\nF,2009,NMAB,22,1\nF,2009,SMAB,20,2\nF,2009,HAT,5\nF,2009,SOU,0\nF,2009,IN1,0\nF,2009,IN2,0\nF,2009,IN3,35,4\nF,2010,GOM,75\nF,2010,GB,72\nF,2010,SNE,38\nF,2010,NYB,18\nF,2010,NMAB,28\nF,2010,SMAB,20\nF,2010,HAT,5,2\nF,2010,SOU,0\nF,2010,IN1,0\nF,2010,IN2,0\nF,2010,IN3,35,2\nF,2011,GOM,78\nF,2011,GB,72\nF,2011,SNE,38\nF,2011,NYB,18\nF,2011,NMAB,22\nF,2011,SMAB,20\nF,2011,HAT,5\nF,2011,SOU,0\nF,2011,IN1,0\nF,2011,IN2,0\nF,2011,IN3,35\nF,2012,GOM,95\nF,2012,GB,72,2\nF,2012,SNE,38\nF,2012,NYB,18\nF,2012,NMAB,22\nF,2012,SMAB,20\nF,2012,HAT,5,4\nF,2012,SOU,0\nF,2012,IN1,0\nF,2012,IN2,0\nF,2012,IN3,35,2\nF,2013,GOM,95\nF,2013,GB,72,2\nF,2013,SNE,38\nF,2013,NYB,18\nF,2013,NMAB,22\nF,2013,SMAB,20\nF,2013,HAT,5\nF,2013,SOU,0\nF,2013,IN1,0\nF,2013,IN2,0\nF,2013,IN3,35,2\nF,2014,GOM,90\nF,2014,GB,78,1\nF,2014,SNE,38\nF,2014,NYB,18\nF,2014,NMAB,22,1\nF,2014,SMAB,20\nF,2014,HAT,5,1\nF,2014,SOU,0\nF,2014,IN1,0\nF,2014,IN2,0\nF,2014,IN3,35,1\nF,2015,GOM,100\nF,2015,GB,78\nF,2015,SNE,38,1\nF,2015,NYB,18\nF,2015,NMAB,22\nF,2015,SMAB,20\nF,2015,HAT,5,1\nF,2015,SOU,0\nF,2015,IN1,0\nF,2015,IN2,0\nF,2015,IN3,35,2\nF,2016,GOM,100\nF,2016,GB,78\nF,2016,SNE,38\nF,2016,NYB,18\nF,2016,NMAB,22\nF,2016,SMAB,20\nF,2016,HAT,5\nF,2016,SOU,0\nF,2016,IN1,0\nF,2016,IN2,0\nF,2016,IN3,35\nF,2017,GOM,65\nF,2017,GB,55\nF,2017,SNE,0\nF,2017,NYB,0\nF,2017,NMAB,0\nF,2017,SMAB,0\nF,2017,HAT,0\nF,2017,SOU,0\nF,2017,IN1,0\nF,2017,IN2,0\nF,2017,IN3,0\nF,2018,GOM,65\nF,2018,GB,70\nF,2018,SNE,32,1\nF,2018,NYB,15\nF,2018,NMAB,18\nF,2018,SMAB,14\nF,2018,HAT,3\nF,2018,SOU,0\nF,2018,IN1,0\nF,2018,IN2,0\nF,2018,IN3,35,1"},
"spacing": 10,
"resolve": {"scale": {"color": "independent", "fill": "independent"}, "legend": {"color": "independent", "fill": "independent"}},
"vconcat": [
{"spacing": 8, "vconcat": [
 {"spacing": 2, "hconcat": [
  {"width": 926, "height": 310, "view": {"fill": "#c2dde8", "stroke": null},
   "transform": [{"filter": "datum.s == 'W'"}],
   "encoding": {
    "x": {"field": "y", "type": "ordinal", "scale": {"domain": [1963,1964,1965,1966,1967,1968,1969,1970,1971,1972,1973,1974,1975,1976,1977,1978,1979,1980,1981,1982,1983,1984,1985,1986,1987,1988,1989,1990,1991,1992,1993,1994,1995,1996,1997,1998,1999,2000,2001,2002,2003,2004,2005,2006,2007,2008,2009,2010,2011,2012,2013,2014,2015,2016,2017,2018,2019], "paddingInner": 0, "paddingOuter": 0}, "axis": {"title": null, "labels": false, "ticks": false, "domain": false, "grid": true, "gridColor": "#ffffff", "gridWidth": 2.5, "bandPosition": 0.5, "zindex": 0}},
    "y": {"field": "r", "type": "ordinal", "scale": {"domain": ["GOM","GB","SNE","NYB","NMAB","SMAB","HAT","SOU","IN1","IN2","IN3"], "paddingInner": 0, "paddingOuter": 0.1}, "axis": {"title": null, "domain": false, "grid": true, "gridColor": "#ffffff", "gridWidth": 2.5, "bandPosition": 0.5, "zindex": 0, "tickSize": 6, "tickColor": "#333333", "tickWidth": 1.5, "labelFontSize": 19.5, "labelColor": "#1a1a1a", "labelPadding": 6}}
   },
   "layer": [
    {"mark": {"type": "rect"}, "encoding": {"color": {"field": "d", "type": "quantitative", "scale": {"domain": [0, 206], "range": ["#ffffff", "#ee1c25"], "interpolate": "lab"}, "legend": null}}},
    {"transform": [{"filter": "datum.l"}], "mark": {"type": "text", "fontSize": 18, "color": "#000000"}, "encoding": {"text": {"field": "l"}}}
   ]},
  {"width": 35, "height": 310, "view": {"fill": "#d9d9d9", "stroke": null}, "data": {"values": [{"t": "WINTER"}]}, "mark": {"type": "text", "angle": 90, "fontSize": 19, "color": "#1a1a1a"}, "encoding": {"text": {"field": "t"}, "x": {"field": "t", "type": "nominal", "axis": null}, "y": {"field": "t", "type": "nominal", "axis": null}}}
 ]},
 {"spacing": 2, "hconcat": [
  {"width": 926, "height": 310, "view": {"fill": "#c2dde8", "stroke": null},
   "transform": [{"filter": "datum.s == 'S'"}],
   "encoding": {
    "x": {"field": "y", "type": "ordinal", "scale": {"domain": [1963,1964,1965,1966,1967,1968,1969,1970,1971,1972,1973,1974,1975,1976,1977,1978,1979,1980,1981,1982,1983,1984,1985,1986,1987,1988,1989,1990,1991,1992,1993,1994,1995,1996,1997,1998,1999,2000,2001,2002,2003,2004,2005,2006,2007,2008,2009,2010,2011,2012,2013,2014,2015,2016,2017,2018,2019], "paddingInner": 0, "paddingOuter": 0}, "axis": {"title": null, "labels": false, "ticks": false, "domain": false, "grid": true, "gridColor": "#ffffff", "gridWidth": 2.5, "bandPosition": 0.5, "zindex": 0}},
    "y": {"field": "r", "type": "ordinal", "scale": {"domain": ["GOM","GB","SNE","NYB","NMAB","SMAB","HAT","SOU","IN1","IN2","IN3"], "paddingInner": 0, "paddingOuter": 0.1}, "axis": {"title": null, "domain": false, "grid": true, "gridColor": "#ffffff", "gridWidth": 2.5, "bandPosition": 0.5, "zindex": 0, "tickSize": 6, "tickColor": "#333333", "tickWidth": 1.5, "labelFontSize": 19.5, "labelColor": "#1a1a1a", "labelPadding": 6}}
   },
   "layer": [
    {"mark": {"type": "rect"}, "encoding": {"color": {"field": "d", "type": "quantitative", "scale": {"domain": [0, 206], "range": ["#ffffff", "#ee1c25"], "interpolate": "lab"}, "legend": null}}},
    {"transform": [{"filter": "datum.l"}], "mark": {"type": "text", "fontSize": 18, "color": "#000000"}, "encoding": {"text": {"field": "l"}}}
   ]},
  {"width": 35, "height": 310, "view": {"fill": "#d9d9d9", "stroke": null}, "data": {"values": [{"t": "SPRING"}]}, "mark": {"type": "text", "angle": 90, "fontSize": 19, "color": "#1a1a1a"}, "encoding": {"text": {"field": "t"}, "x": {"field": "t", "type": "nominal", "axis": null}, "y": {"field": "t", "type": "nominal", "axis": null}}}
 ]},
 {"spacing": 2, "hconcat": [
  {"width": 926, "height": 310, "view": {"fill": "#c2dde8", "stroke": null},
   "transform": [{"filter": "datum.s == 'U'"}],
   "encoding": {
    "x": {"field": "y", "type": "ordinal", "scale": {"domain": [1963,1964,1965,1966,1967,1968,1969,1970,1971,1972,1973,1974,1975,1976,1977,1978,1979,1980,1981,1982,1983,1984,1985,1986,1987,1988,1989,1990,1991,1992,1993,1994,1995,1996,1997,1998,1999,2000,2001,2002,2003,2004,2005,2006,2007,2008,2009,2010,2011,2012,2013,2014,2015,2016,2017,2018,2019], "paddingInner": 0, "paddingOuter": 0}, "axis": {"title": null, "labels": false, "ticks": false, "domain": false, "grid": true, "gridColor": "#ffffff", "gridWidth": 2.5, "bandPosition": 0.5, "zindex": 0}},
    "y": {"field": "r", "type": "ordinal", "scale": {"domain": ["GOM","GB","SNE","NYB","NMAB","SMAB","HAT","SOU","IN1","IN2","IN3"], "paddingInner": 0, "paddingOuter": 0.1}, "axis": {"title": null, "domain": false, "grid": true, "gridColor": "#ffffff", "gridWidth": 2.5, "bandPosition": 0.5, "zindex": 0, "tickSize": 6, "tickColor": "#333333", "tickWidth": 1.5, "labelFontSize": 19.5, "labelColor": "#1a1a1a", "labelPadding": 6}}
   },
   "layer": [
    {"mark": {"type": "rect"}, "encoding": {"color": {"field": "d", "type": "quantitative", "scale": {"domain": [0, 206], "range": ["#ffffff", "#ee1c25"], "interpolate": "lab"}, "legend": null}}},
    {"transform": [{"filter": "datum.l"}], "mark": {"type": "text", "fontSize": 18, "color": "#000000"}, "encoding": {"text": {"field": "l"}}}
   ]},
  {"width": 35, "height": 310, "view": {"fill": "#d9d9d9", "stroke": null}, "data": {"values": [{"t": "SUMMER"}]}, "mark": {"type": "text", "angle": 90, "fontSize": 19, "color": "#1a1a1a"}, "encoding": {"text": {"field": "t"}, "x": {"field": "t", "type": "nominal", "axis": null}, "y": {"field": "t", "type": "nominal", "axis": null}}}
 ]},
 {"spacing": 2, "hconcat": [
  {"width": 926, "height": 310, "view": {"fill": "#c2dde8", "stroke": null},
   "transform": [{"filter": "datum.s == 'F'"}],
   "encoding": {
    "x": {"field": "y", "type": "ordinal", "scale": {"domain": [1963,1964,1965,1966,1967,1968,1969,1970,1971,1972,1973,1974,1975,1976,1977,1978,1979,1980,1981,1982,1983,1984,1985,1986,1987,1988,1989,1990,1991,1992,1993,1994,1995,1996,1997,1998,1999,2000,2001,2002,2003,2004,2005,2006,2007,2008,2009,2010,2011,2012,2013,2014,2015,2016,2017,2018,2019], "paddingInner": 0, "paddingOuter": 0}, "axis": {"title": null, "domain": false, "grid": true, "gridColor": "#ffffff", "gridWidth": 2.5, "bandPosition": 0.5, "zindex": 0, "labelExpr": "datum.value % 5 == 3 ? datum.label : ''", "tickColor": {"condition": {"test": "datum.value % 5 == 3", "value": "#333333"}, "value": "transparent"}, "tickSize": 7, "tickWidth": 1.2, "labelFontSize": 18.5, "labelColor": "#1a1a1a", "labelPadding": 11, "labelAngle": 0, "labelOverlap": false, "labelBound": false, "labelFlush": false}},
    "y": {"field": "r", "type": "ordinal", "scale": {"domain": ["GOM","GB","SNE","NYB","NMAB","SMAB","HAT","SOU","IN1","IN2","IN3"], "paddingInner": 0, "paddingOuter": 0.1}, "axis": {"title": null, "domain": false, "grid": true, "gridColor": "#ffffff", "gridWidth": 2.5, "bandPosition": 0.5, "zindex": 0, "tickSize": 6, "tickColor": "#333333", "tickWidth": 1.5, "labelFontSize": 19.5, "labelColor": "#1a1a1a", "labelPadding": 6}}
   },
   "layer": [
    {"mark": {"type": "rect"}, "encoding": {"color": {"field": "d", "type": "quantitative", "scale": {"domain": [0, 206], "range": ["#ffffff", "#ee1c25"], "interpolate": "lab"}, "legend": null}}},
    {"transform": [{"filter": "datum.l"}], "mark": {"type": "text", "fontSize": 18, "color": "#000000"}, "encoding": {"text": {"field": "l"}}}
   ]},
  {"width": 35, "height": 310, "view": {"fill": "#d9d9d9", "stroke": null}, "data": {"values": [{"t": "FALL"}]}, "mark": {"type": "text", "angle": 90, "fontSize": 19, "color": "#1a1a1a"}, "encoding": {"text": {"field": "t"}, "x": {"field": "t", "type": "nominal", "axis": null}, "y": {"field": "t", "type": "nominal", "axis": null}}}
 ]}
]},
{"width": 950, "height": 90, "view": {"stroke": null, "fill": null},
 "resolve": {"axis": {"y": "independent"}},
 "layer": [
  {"data": {"values": [{"v": 0}, {"v": 1}]},
   "mark": {"type": "point", "opacity": 0},
   "encoding": {
    "x": {"field": "v", "type": "quantitative", "scale": {"domain": [0, 1]}, "axis": {"orient": "top", "domain": true, "domainColor": "#333333", "domainWidth": 1.5, "ticks": false, "labels": false, "grid": false, "title": null}},
    "y": {"field": "v", "type": "quantitative", "scale": {"domain": [0, 1]}, "axis": {"orient": "left", "offset": 70, "domain": true, "domainColor": "#333333", "domainWidth": 1.5, "values": [1], "ticks": true, "tickSize": -70, "tickColor": "#333333", "tickWidth": 1.5, "labels": false, "grid": false, "title": null}}
   }},
  {"data": {"values": [{"v": 0}, {"v": 1}]},
   "mark": {"type": "point", "opacity": 0},
   "encoding": {
    "y": {"field": "v", "type": "quantitative", "scale": {"domain": [0, 1]}, "axis": {"orient": "right", "domain": true, "domainColor": "#333333", "domainWidth": 1.5, "ticks": false, "labels": false, "grid": false, "title": null}}
   }},
  {"data": {"values": [{"k": "No sampling vessel at sea"}]},
   "mark": {"type": "square", "opacity": 0},
   "encoding": {"fill": {"field": "k", "type": "nominal", "scale": {"range": ["#c2dde8"]}, "legend": {"orient": "none", "legendX": -45, "legendY": 14, "title": null, "symbolType": "square", "symbolSize": 1024, "symbolOpacity": 1, "symbolStrokeWidth": 0, "labelFontSize": 19, "labelColor": "#1a1a1a", "labelOffset": 17, "padding": 0, "labelLimit": 400}}}},
  {"data": {"values": [{"d": 0}, {"d": 206}]},
   "mark": {"type": "square", "opacity": 0},
   "encoding": {"color": {"field": "d", "type": "quantitative", "scale": {"domain": [0, 206], "range": ["#ffffff", "#ee1c25"], "interpolate": "lab"}, "legend": {"orient": "none", "legendX": 328, "legendY": 15, "direction": "horizontal", "gradientLength": 337, "gradientThickness": 31, "gradientStrokeWidth": 0, "title": ["Station Density sampled", "by vessel at sea"], "titleOrient": "right", "titleFontSize": 19, "titleFontWeight": "normal", "titleColor": "#1a1a1a", "titlePadding": 48, "titleAnchor": "start", "titleBaseline": "top", "titleLineHeight": 23, "titleLimit": 400, "labelFontSize": 19, "labelColor": "#1a1a1a", "labelOffset": 6, "values": [0, 50, 100, 150, 200], "padding": 0}}}}
 ]}
]
}
